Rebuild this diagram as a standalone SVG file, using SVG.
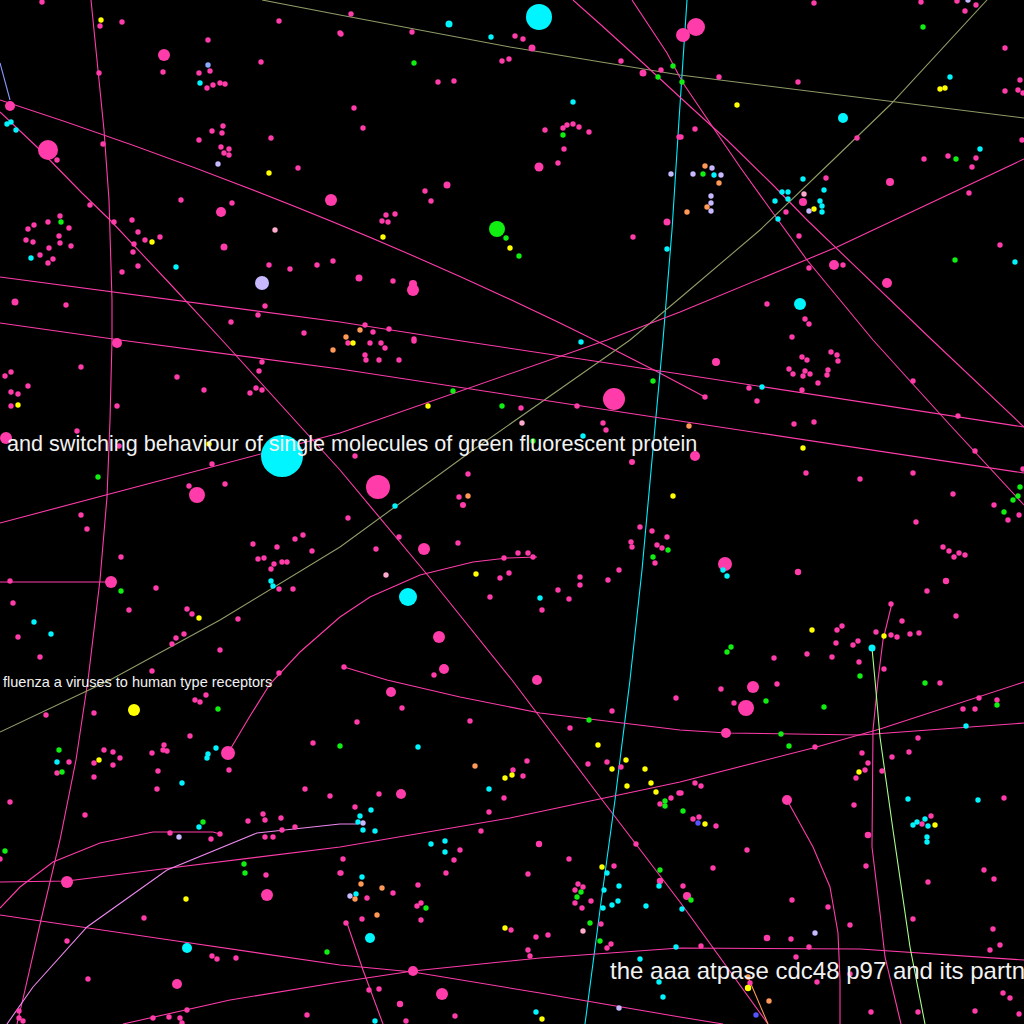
<svg xmlns="http://www.w3.org/2000/svg" width="1024" height="1024" viewBox="0 0 1024 1024">
<style>
.ln{fill:none;stroke-width:1.1}
.lp{stroke:#ff3caa}.lo{stroke:#8f9c66}.lc{stroke:#00eeff}.lg{stroke:#aaff88}.lv{stroke:#ee88ee}.lb{stroke:#8899ff}.lr{stroke:#ff9955}
.p{fill:#ff3caa}.c{fill:#00f5ff}.g{fill:#11ee11}.y{fill:#ffff00}.v{fill:#c8b8ff}.o{fill:#ff9955}.k{fill:#ffaacc}.b{fill:#88aaff}.u{fill:#5555ff}
.t{font-family:"Liberation Sans",Arial,sans-serif;fill:#f2f2f2}
</style>
<rect width="1024" height="1024" fill="#000"/>
<g id="connectors">
<polyline class="ln lp" points="91,0 97,60 104,130 109,200 112,300 112,340 110,420 107,497 100,580 88,680 76,760 60,840 41,920 25,990 17,1024"/>
<path class="ln lp" d="M0,100 C200,165 450,260 705,397"/>
<polyline class="ln lp" points="0,112 37,147 82,193 110,220 173,287 222,340 340,470 430,578 512,680 600,797 680,902 768,1024"/>
<polyline class="ln lb" points="0,63 10,100"/>
<polyline class="ln lo" points="262,0 340,15 510,47 680,75 1024,118"/>
<polyline class="ln lc" points="687,0 683,60 679,120 672,230 663,340 652,460 642,570 630,680 615,800 600,910 585,1024"/>
<polyline class="ln lp" points="632,0 667,53 683,83 710,123 740,167 773,213 807,260 873,340 950,425 1024,505"/>
<polyline class="ln lp" points="573,0 600,24 643,63 683,100 727,140 773,185 807,220 932,340 1024,427"/>
<polyline class="ln lo" points="0,732 110,680 220,620 340,547 473,450 630,340 680,298 760,230 833,160 890,105 987,0"/>
<polyline class="ln lp" points="0,277 340,322 455,340 680,374 1024,427"/>
<polyline class="ln lp" points="0,323 120,340 340,369 680,421 1024,473"/>
<polyline class="ln lp" points="0,523 340,433 607,340 680,312 837,247 1024,159"/>
<polyline class="ln lp" points="228,753 250,716 270,684 300,652 340,617 370,597 420,575 473,562 507,558 537,557"/>
<polyline class="ln lp" points="0,582 111,582"/>
<polyline class="ln lp" points="344,667 387,680 460,697 540,713 680,730 727,733 860,735 1024,723"/>
<polyline class="ln lp" points="0,882 67,881 170,868 340,847 510,818 680,782 813,748 880,729 1024,682"/>
<polyline class="ln lp" points="0,915 170,940 340,965 413,972 540,993 680,1017 723,1024"/>
<polyline class="ln lp" points="123,1024 230,1000 340,982 413,971 540,958 680,948 860,949 1024,960"/>
<polyline class="ln lv" points="7,1024 33,987 87,927 167,870 257,833 340,824 357,824"/>
<polyline class="ln lp" points="0,908 20,887 53,862 100,843 153,832 213,832 220,834"/>
<polyline class="ln lp" points="787,800 813,847 830,887 838,933 840,980 840,1024"/>
<polyline class="ln lp" points="892,603 883,640 878,680 873,730 872,847 880,913 885,957 901,1024"/>
<polyline class="ln lg" points="872,648 875,680 880,737 893,830 910,947 925,1024"/>
<polyline class="ln lr" points="748,977 768,1024"/>
<polyline class="ln lp" points="347,923 363,970 383,1024"/>
</g>
<g id="pink-dots" class="p">
<circle cx="42" cy="2" r="2.7"/><circle cx="122" cy="22" r="2.7"/><circle cx="100" cy="26" r="2.7"/><circle cx="208" cy="40" r="2.7"/><circle cx="279" cy="21" r="2.7"/><circle cx="340" cy="33" r="2.7"/><circle cx="163" cy="72" r="2.7"/><circle cx="199" cy="73" r="2.7"/><circle cx="210" cy="71" r="2.7"/><circle cx="220" cy="83" r="2.7"/><circle cx="225" cy="84" r="2.7"/><circle cx="213" cy="85" r="2.7"/><circle cx="207" cy="88" r="2.7"/><circle cx="261" cy="62" r="2.7"/><circle cx="99" cy="73" r="2.7"/><circle cx="57" cy="160" r="2.7"/><circle cx="103" cy="144" r="2.7"/><circle cx="212" cy="131" r="2.7"/><circle cx="223" cy="126" r="2.7"/><circle cx="222" cy="133" r="2.7"/><circle cx="199" cy="140" r="2.7"/><circle cx="221" cy="147" r="2.7"/><circle cx="229" cy="149" r="2.7"/><circle cx="224" cy="153" r="2.7"/><circle cx="229" cy="155" r="2.7"/><circle cx="271" cy="138" r="2.7"/><circle cx="298" cy="168" r="2.7"/><circle cx="181" cy="200" r="2.7"/><circle cx="232" cy="203" r="2.7"/><circle cx="90" cy="205" r="2.7"/><circle cx="114" cy="222" r="2.7"/><circle cx="132" cy="220" r="2.7"/><circle cx="138" cy="232" r="2.7"/><circle cx="145" cy="240" r="2.7"/><circle cx="160" cy="237" r="2.7"/><circle cx="134" cy="244" r="2.7"/><circle cx="133" cy="252" r="2.7"/><circle cx="138" cy="266" r="2.7"/><circle cx="122" cy="272" r="2.7"/><circle cx="60" cy="216" r="2.7"/><circle cx="48" cy="222" r="2.7"/><circle cx="34" cy="225" r="2.7"/><circle cx="28" cy="229" r="2.7"/><circle cx="69" cy="228" r="2.7"/><circle cx="26" cy="240" r="2.7"/><circle cx="33" cy="242" r="2.7"/><circle cx="59" cy="236" r="2.7"/><circle cx="60" cy="243" r="2.7"/><circle cx="71" cy="246" r="2.7"/><circle cx="49" cy="248" r="2.7"/><circle cx="40" cy="255" r="2.7"/><circle cx="53" cy="259" r="2.7"/><circle cx="48" cy="263" r="2.7"/><circle cx="269" cy="265" r="2.7"/><circle cx="290" cy="269" r="2.7"/><circle cx="317" cy="265" r="2.7"/><circle cx="333" cy="261" r="2.7"/><circle cx="265" cy="306" r="2.7"/><circle cx="258" cy="315" r="2.7"/><circle cx="231" cy="322" r="2.7"/><circle cx="304" cy="333" r="2.7"/><circle cx="66" cy="305" r="2.7"/>
<circle cx="351" cy="14" r="2.7"/><circle cx="412" cy="32" r="2.7"/><circle cx="341" cy="34" r="2.7"/><circle cx="515" cy="36" r="2.7"/><circle cx="523" cy="39" r="2.7"/><circle cx="502" cy="61" r="2.7"/><circle cx="509" cy="59" r="2.7"/><circle cx="621" cy="61" r="2.7"/><circle cx="661" cy="70" r="2.7"/><circle cx="438" cy="82" r="2.7"/><circle cx="454" cy="81" r="2.7"/><circle cx="354" cy="108" r="2.7"/><circle cx="363" cy="128" r="2.7"/><circle cx="545" cy="130" r="2.7"/><circle cx="563" cy="128" r="2.7"/><circle cx="567" cy="125" r="2.7"/><circle cx="573" cy="124" r="2.7"/><circle cx="579" cy="127" r="2.7"/><circle cx="589" cy="132" r="2.7"/><circle cx="564" cy="149" r="2.7"/><circle cx="558" cy="163" r="2.7"/><circle cx="425" cy="191" r="2.7"/><circle cx="431" cy="201" r="2.7"/><circle cx="386" cy="215" r="2.7"/><circle cx="395" cy="214" r="2.7"/><circle cx="382" cy="221" r="2.7"/><circle cx="388" cy="222" r="2.7"/><circle cx="633" cy="237" r="2.7"/><circle cx="393" cy="281" r="2.7"/><circle cx="365" cy="325" r="2.7"/><circle cx="373" cy="332" r="2.7"/><circle cx="389" cy="329" r="2.7"/><circle cx="414" cy="339" r="2.7"/><circle cx="679" cy="137" r="2.7"/>
<circle cx="814" cy="3" r="2.7"/><circle cx="921" cy="2" r="2.7"/><circle cx="957" cy="1" r="2.7"/><circle cx="976" cy="5" r="2.7"/><circle cx="965" cy="11" r="2.7"/><circle cx="1005" cy="48" r="2.7"/><circle cx="1020" cy="80" r="2.7"/><circle cx="1005" cy="91" r="2.7"/><circle cx="1018" cy="90" r="2.7"/><circle cx="1023" cy="93" r="2.7"/><circle cx="719" cy="77" r="2.7"/><circle cx="798" cy="82" r="2.7"/><circle cx="695" cy="129" r="2.7"/><circle cx="681" cy="137" r="2.7"/><circle cx="857" cy="138" r="2.7"/><circle cx="924" cy="159" r="2.7"/><circle cx="948" cy="156" r="2.7"/><circle cx="972" cy="167" r="2.7"/><circle cx="976" cy="158" r="2.7"/><circle cx="1022" cy="140" r="2.7"/><circle cx="826" cy="178" r="2.7"/><circle cx="969" cy="193" r="2.7"/><circle cx="786" cy="212" r="2.7"/><circle cx="799" cy="236" r="2.7"/><circle cx="809" cy="268" r="2.7"/><circle cx="843" cy="265" r="2.7"/><circle cx="1000" cy="245" r="2.7"/><circle cx="767" cy="304" r="2.7"/><circle cx="805" cy="319" r="2.7"/><circle cx="809" cy="324" r="2.7"/><circle cx="792" cy="337" r="2.7"/>
<circle cx="11" cy="372" r="2.7"/><circle cx="5" cy="376" r="2.7"/><circle cx="28" cy="386" r="2.7"/><circle cx="11" cy="392" r="2.7"/><circle cx="18" cy="394" r="2.7"/><circle cx="11" cy="406" r="2.7"/><circle cx="81" cy="367" r="2.7"/><circle cx="117" cy="406" r="2.7"/><circle cx="77" cy="431" r="2.7"/><circle cx="119" cy="446" r="2.7"/><circle cx="177" cy="377" r="2.7"/><circle cx="204" cy="390" r="2.7"/><circle cx="262" cy="362" r="2.7"/><circle cx="259" cy="371" r="2.7"/><circle cx="256" cy="388" r="2.7"/><circle cx="262" cy="390" r="2.7"/><circle cx="250" cy="393" r="2.7"/><circle cx="212" cy="464" r="2.7"/><circle cx="225" cy="484" r="2.7"/><circle cx="189" cy="486" r="2.7"/><circle cx="81" cy="515" r="2.7"/><circle cx="87" cy="529" r="2.7"/><circle cx="121" cy="557" r="2.7"/><circle cx="10" cy="581" r="2.7"/><circle cx="13" cy="603" r="2.7"/><circle cx="156" cy="588" r="2.7"/><circle cx="129" cy="610" r="2.7"/><circle cx="187" cy="609" r="2.7"/><circle cx="192" cy="614" r="2.7"/><circle cx="18" cy="637" r="2.7"/><circle cx="40" cy="657" r="2.7"/><circle cx="176" cy="638" r="2.7"/><circle cx="184" cy="634" r="2.7"/><circle cx="172" cy="644" r="2.7"/><circle cx="220" cy="650" r="2.7"/><circle cx="152" cy="671" r="2.7"/><circle cx="238" cy="619" r="2.7"/><circle cx="253" cy="544" r="2.7"/><circle cx="277" cy="547" r="2.7"/><circle cx="295" cy="539" r="2.7"/><circle cx="303" cy="535" r="2.7"/><circle cx="312" cy="551" r="2.7"/><circle cx="258" cy="559" r="2.7"/><circle cx="264" cy="558" r="2.7"/><circle cx="274" cy="564" r="2.7"/><circle cx="271" cy="569" r="2.7"/><circle cx="282" cy="562" r="2.7"/><circle cx="287" cy="562" r="2.7"/><circle cx="279" cy="589" r="2.7"/><circle cx="293" cy="589" r="2.7"/><circle cx="279" cy="673" r="2.7"/>
<circle cx="348" cy="343" r="2.7"/><circle cx="370" cy="343" r="2.7"/><circle cx="381" cy="343" r="2.7"/><circle cx="385" cy="348" r="2.7"/><circle cx="365" cy="355" r="2.7"/><circle cx="366" cy="360" r="2.7"/><circle cx="379" cy="360" r="2.7"/><circle cx="399" cy="360" r="2.7"/><circle cx="414" cy="341" r="2.7"/><circle cx="521" cy="408" r="2.7"/><circle cx="577" cy="406" r="2.7"/><circle cx="603" cy="423" r="2.7"/><circle cx="606" cy="430" r="2.7"/><circle cx="355" cy="456" r="2.7"/><circle cx="468" cy="474" r="2.7"/><circle cx="459" cy="497" r="2.7"/><circle cx="463" cy="505" r="3"/><circle cx="348" cy="518" r="2.7"/><circle cx="399" cy="537" r="2.7"/><circle cx="458" cy="543" r="2.7"/><circle cx="376" cy="549" r="2.7"/><circle cx="518" cy="553" r="2.7"/><circle cx="528" cy="553" r="2.7"/><circle cx="533" cy="557" r="2.7"/><circle cx="504" cy="558" r="2.7"/><circle cx="500" cy="578" r="2.7"/><circle cx="509" cy="573" r="2.7"/><circle cx="580" cy="577" r="2.7"/><circle cx="580" cy="585" r="2.7"/><circle cx="558" cy="590" r="2.7"/><circle cx="569" cy="599" r="2.7"/><circle cx="542" cy="610" r="2.7"/><circle cx="490" cy="597" r="2.7"/><circle cx="608" cy="580" r="2.7"/><circle cx="619" cy="570" r="2.7"/><circle cx="640" cy="527" r="2.7"/><circle cx="652" cy="531" r="2.7"/><circle cx="667" cy="537" r="2.7"/><circle cx="631" cy="542" r="2.7"/><circle cx="632" cy="547" r="2.7"/><circle cx="657" cy="545" r="2.7"/><circle cx="662" cy="548" r="2.7"/><circle cx="655" cy="563" r="2.7"/><circle cx="344" cy="667" r="2.7"/><circle cx="434" cy="675" r="2.7"/><circle cx="632" cy="462" r="3"/>
<circle cx="831" cy="352" r="2.7"/><circle cx="837" cy="355" r="2.7"/><circle cx="838" cy="361" r="2.7"/><circle cx="802" cy="357" r="2.7"/><circle cx="807" cy="360" r="2.7"/><circle cx="789" cy="369" r="2.7"/><circle cx="793" cy="374" r="2.7"/><circle cx="805" cy="371" r="2.7"/><circle cx="803" cy="376" r="2.7"/><circle cx="810" cy="374" r="2.7"/><circle cx="828" cy="370" r="2.7"/><circle cx="827" cy="375" r="2.7"/><circle cx="818" cy="383" r="2.7"/><circle cx="802" cy="390" r="2.7"/><circle cx="749" cy="388" r="2.7"/><circle cx="757" cy="401" r="2.7"/><circle cx="705" cy="397" r="2.7"/><circle cx="913" cy="381" r="2.7"/><circle cx="958" cy="416" r="2.7"/><circle cx="975" cy="451" r="2.7"/><circle cx="1023" cy="469" r="2.7"/><circle cx="794" cy="424" r="2.7"/><circle cx="814" cy="422" r="2.7"/><circle cx="806" cy="473" r="2.7"/><circle cx="860" cy="479" r="2.7"/><circle cx="913" cy="473" r="2.7"/><circle cx="953" cy="494" r="2.7"/><circle cx="994" cy="505" r="2.7"/><circle cx="1008" cy="520" r="2.7"/><circle cx="1019" cy="515" r="2.7"/><circle cx="916" cy="522" r="2.7"/><circle cx="943" cy="547" r="2.7"/><circle cx="949" cy="551" r="2.7"/><circle cx="954" cy="557" r="2.7"/><circle cx="959" cy="553" r="2.7"/><circle cx="965" cy="555" r="2.7"/><circle cx="927" cy="591" r="2.7"/><circle cx="956" cy="616" r="2.7"/><circle cx="891" cy="604" r="2.7"/><circle cx="902" cy="621" r="2.7"/><circle cx="876" cy="632" r="2.7"/><circle cx="891" cy="635" r="2.7"/><circle cx="897" cy="637" r="2.7"/><circle cx="910" cy="634" r="2.7"/><circle cx="919" cy="633" r="2.7"/><circle cx="842" cy="626" r="2.7"/><circle cx="837" cy="630" r="2.7"/><circle cx="836" cy="643" r="2.7"/><circle cx="853" cy="645" r="2.7"/><circle cx="858" cy="641" r="2.7"/><circle cx="859" cy="662" r="2.7"/><circle cx="832" cy="657" r="2.7"/><circle cx="807" cy="654" r="2.7"/><circle cx="774" cy="658" r="2.7"/><circle cx="884" cy="669" r="2.7"/><circle cx="798" cy="572" r="3.2"/><circle cx="946" cy="581" r="3.2"/>
<circle cx="206" cy="695" r="2.7"/><circle cx="195" cy="700" r="2.7"/><circle cx="200" cy="702" r="2.7"/><circle cx="46" cy="715" r="2.7"/><circle cx="94" cy="713" r="2.7"/><circle cx="190" cy="736" r="2.7"/><circle cx="164" cy="745" r="2.7"/><circle cx="163" cy="750" r="2.7"/><circle cx="167" cy="751" r="2.7"/><circle cx="152" cy="753" r="2.7"/><circle cx="104" cy="750" r="2.7"/><circle cx="113" cy="752" r="2.7"/><circle cx="120" cy="758" r="2.7"/><circle cx="113" cy="765" r="2.7"/><circle cx="94" cy="763" r="2.7"/><circle cx="69" cy="762" r="2.7"/><circle cx="57" cy="773" r="2.7"/><circle cx="94" cy="777" r="2.7"/><circle cx="158" cy="771" r="2.7"/><circle cx="157" cy="789" r="2.7"/><circle cx="229" cy="770" r="2.7"/><circle cx="313" cy="743" r="2.7"/><circle cx="305" cy="789" r="2.7"/><circle cx="330" cy="796" r="2.7"/><circle cx="10" cy="802" r="2.7"/><circle cx="85" cy="815" r="2.7"/><circle cx="263" cy="814" r="2.7"/><circle cx="265" cy="820" r="2.7"/><circle cx="281" cy="818" r="2.7"/><circle cx="248" cy="821" r="2.7"/><circle cx="295" cy="827" r="2.7"/><circle cx="282" cy="830" r="2.7"/><circle cx="265" cy="837" r="2.7"/><circle cx="273" cy="837" r="2.7"/><circle cx="170" cy="833" r="2.7"/><circle cx="220" cy="834" r="2.7"/><circle cx="211" cy="839" r="2.7"/><circle cx="0" cy="859" r="2.7"/><circle cx="266" cy="875" r="2.7"/><circle cx="340" cy="873" r="2.7"/><circle cx="144" cy="918" r="2.7"/><circle cx="67" cy="941" r="2.7"/><circle cx="212" cy="956" r="2.7"/><circle cx="217" cy="959" r="2.7"/><circle cx="236" cy="958" r="2.7"/><circle cx="88" cy="979" r="2.7"/><circle cx="307" cy="1015" r="2.7"/><circle cx="19" cy="1011" r="2.7"/><circle cx="19" cy="1018" r="2.7"/><circle cx="23" cy="1021" r="2.7"/><circle cx="187" cy="1010" r="2.7"/><circle cx="153" cy="1018" r="2.7"/><circle cx="169" cy="1017" r="2.7"/><circle cx="180" cy="1018" r="2.7"/><circle cx="182" cy="1023" r="2.7"/>
<circle cx="402" cy="708" r="2.7"/><circle cx="357" cy="722" r="2.7"/><circle cx="470" cy="721" r="2.7"/><circle cx="612" cy="711" r="2.7"/><circle cx="570" cy="728" r="2.7"/><circle cx="676" cy="698" r="2.7"/><circle cx="527" cy="761" r="2.7"/><circle cx="513" cy="770" r="2.7"/><circle cx="523" cy="776" r="2.7"/><circle cx="588" cy="764" r="2.7"/><circle cx="607" cy="762" r="2.7"/><circle cx="621" cy="767" r="2.7"/><circle cx="504" cy="798" r="2.7"/><circle cx="489" cy="812" r="2.7"/><circle cx="379" cy="794" r="2.7"/><circle cx="355" cy="807" r="2.7"/><circle cx="481" cy="831" r="2.7"/><circle cx="671" cy="798" r="2.7"/><circle cx="660" cy="804" r="2.7"/><circle cx="679" cy="793" r="2.7"/><circle cx="636" cy="844" r="2.7"/><circle cx="539" cy="844" r="3.2"/><circle cx="343" cy="859" r="2.7"/><circle cx="341" cy="873" r="2.7"/><circle cx="460" cy="850" r="2.7"/><circle cx="454" cy="860" r="2.7"/><circle cx="446" cy="873" r="2.7"/><circle cx="569" cy="859" r="2.7"/><circle cx="614" cy="866" r="2.7"/><circle cx="528" cy="874" r="2.7"/><circle cx="393" cy="893" r="2.7"/><circle cx="418" cy="885" r="2.7"/><circle cx="367" cy="898" r="2.7"/><circle cx="421" cy="903" r="2.7"/><circle cx="417" cy="906" r="2.7"/><circle cx="421" cy="920" r="2.7"/><circle cx="362" cy="919" r="2.7"/><circle cx="578" cy="884" r="2.7"/><circle cx="583" cy="887" r="2.7"/><circle cx="575" cy="890" r="2.7"/><circle cx="575" cy="903" r="2.7"/><circle cx="591" cy="901" r="2.7"/><circle cx="582" cy="908" r="2.7"/><circle cx="601" cy="924" r="2.7"/><circle cx="611" cy="944" r="2.7"/><circle cx="607" cy="948" r="2.7"/><circle cx="511" cy="930" r="2.7"/><circle cx="536" cy="937" r="2.7"/><circle cx="548" cy="935" r="2.7"/><circle cx="528" cy="950" r="2.7"/><circle cx="530" cy="956" r="2.7"/><circle cx="346" cy="923" r="2.7"/><circle cx="369" cy="990" r="2.7"/><circle cx="379" cy="989" r="2.7"/><circle cx="455" cy="1016" r="2.7"/><circle cx="406" cy="1021" r="2.7"/><circle cx="660" cy="881" r="3.2"/><circle cx="400" cy="1004" r="3.2"/>
<circle cx="721" cy="689" r="2.7"/><circle cx="734" cy="703" r="2.7"/><circle cx="777" cy="684" r="2.7"/><circle cx="940" cy="683" r="2.7"/><circle cx="979" cy="698" r="2.7"/><circle cx="997" cy="700" r="2.7"/><circle cx="963" cy="709" r="2.7"/><circle cx="975" cy="709" r="2.7"/><circle cx="918" cy="738" r="2.7"/><circle cx="909" cy="752" r="2.7"/><circle cx="892" cy="757" r="2.7"/><circle cx="862" cy="753" r="2.7"/><circle cx="868" cy="763" r="2.7"/><circle cx="865" cy="770" r="2.7"/><circle cx="882" cy="771" r="2.7"/><circle cx="856" cy="778" r="2.7"/><circle cx="815" cy="747" r="2.7"/><circle cx="695" cy="783" r="2.7"/><circle cx="701" cy="786" r="2.7"/><circle cx="681" cy="793" r="2.7"/><circle cx="854" cy="805" r="2.7"/><circle cx="1004" cy="798" r="2.7"/><circle cx="931" cy="816" r="2.7"/><circle cx="922" cy="824" r="2.7"/><circle cx="693" cy="819" r="2.7"/><circle cx="699" cy="817" r="2.7"/><circle cx="716" cy="826" r="2.7"/><circle cx="747" cy="850" r="2.7"/><circle cx="713" cy="868" r="2.7"/><circle cx="866" cy="866" r="2.7"/><circle cx="984" cy="870" r="2.7"/><circle cx="994" cy="879" r="2.7"/><circle cx="928" cy="882" r="2.7"/><circle cx="683" cy="886" r="2.7"/><circle cx="792" cy="900" r="2.7"/><circle cx="828" cy="907" r="2.7"/><circle cx="850" cy="925" r="2.7"/><circle cx="913" cy="919" r="2.7"/><circle cx="993" cy="929" r="2.7"/><circle cx="1000" cy="945" r="2.7"/><circle cx="990" cy="950" r="2.7"/><circle cx="791" cy="939" r="2.7"/><circle cx="809" cy="947" r="2.7"/><circle cx="701" cy="946" r="2.7"/><circle cx="796" cy="957" r="2.7"/><circle cx="850" cy="974" r="2.7"/><circle cx="817" cy="982" r="2.7"/><circle cx="750" cy="983" r="2.7"/><circle cx="1003" cy="993" r="2.7"/><circle cx="1010" cy="998" r="2.7"/><circle cx="975" cy="1011" r="2.7"/><circle cx="918" cy="1012" r="2.7"/><circle cx="1019" cy="1014" r="2.7"/><circle cx="871" cy="1012" r="2.7"/><circle cx="767" cy="938" r="3.3"/><circle cx="868" cy="835" r="3.3"/>
</g>
<g id="pink-circles" class="p">
<circle cx="696" cy="27" r="9"/><circle cx="683" cy="35" r="7"/><circle cx="48" cy="150" r="10"/><circle cx="10" cy="106" r="5"/><circle cx="164" cy="55" r="6"/><circle cx="331" cy="200" r="6"/><circle cx="221" cy="212" r="5"/><circle cx="15" cy="302" r="3.5"/><circle cx="224" cy="247" r="3.5"/><circle cx="413" cy="290" r="6"/><circle cx="413" cy="284" r="4"/><circle cx="532" cy="48" r="3.5"/><circle cx="643" cy="73" r="3.5"/><circle cx="539" cy="167" r="4.5"/><circle cx="447" cy="185" r="3.5"/><circle cx="667" cy="222" r="3.5"/><circle cx="359" cy="278" r="3.5"/><circle cx="834" cy="265" r="5"/><circle cx="887" cy="283" r="5"/><circle cx="890" cy="182" r="4"/><circle cx="803" cy="202" r="4"/><circle cx="716" cy="362" r="4"/><circle cx="614" cy="399" r="11"/><circle cx="378" cy="487" r="12"/><circle cx="197" cy="495" r="8"/><circle cx="6" cy="438" r="6"/><circle cx="117" cy="343" r="5"/><circle cx="695" cy="456" r="5"/><circle cx="424" cy="549" r="6"/><circle cx="725" cy="564" r="7"/><circle cx="111" cy="582" r="6"/><circle cx="439" cy="637" r="6"/><circle cx="444" cy="669" r="5"/><circle cx="537" cy="680" r="5"/><circle cx="391" cy="692" r="5"/><circle cx="753" cy="687" r="6"/><circle cx="746" cy="708" r="8"/><circle cx="726" cy="733" r="5"/><circle cx="228" cy="753" r="7"/><circle cx="401" cy="794" r="5"/><circle cx="787" cy="800" r="5"/><circle cx="67" cy="882" r="6"/><circle cx="267" cy="895" r="6"/><circle cx="413" cy="971" r="5"/><circle cx="442" cy="994" r="6"/><circle cx="177" cy="984" r="5"/><circle cx="687" cy="896" r="4"/>
</g>
<g id="cyan-dots" class="c">
<circle cx="539" cy="17" r="13"/><circle cx="282" cy="456" r="21"/><circle cx="408" cy="597" r="9"/><circle cx="800" cy="304" r="6"/><circle cx="843" cy="118" r="5"/><circle cx="370" cy="938" r="5"/><circle cx="187" cy="948" r="5"/><circle cx="449" cy="24" r="3.5"/><circle cx="872" cy="648" r="3.5"/>
<circle cx="200" cy="83" r="2.7"/><circle cx="7" cy="124" r="2.7"/><circle cx="11" cy="122" r="2.7"/><circle cx="16" cy="130" r="2.7"/><circle cx="31" cy="258" r="2.7"/><circle cx="176" cy="267" r="2.7"/><circle cx="491" cy="37" r="2.7"/><circle cx="573" cy="102" r="2.7"/><circle cx="667" cy="249" r="2.7"/><circle cx="950" cy="77" r="2.7"/><circle cx="980" cy="149" r="2.7"/><circle cx="803" cy="179" r="2.7"/><circle cx="782" cy="192" r="2.7"/><circle cx="788" cy="192" r="2.7"/><circle cx="775" cy="201" r="2.7"/><circle cx="788" cy="199" r="2.7"/><circle cx="824" cy="190" r="2.7"/><circle cx="820" cy="201" r="2.7"/><circle cx="822" cy="206" r="2.7"/><circle cx="822" cy="212" r="2.7"/><circle cx="778" cy="219" r="2.7"/><circle cx="1015" cy="262" r="2.7"/><circle cx="714" cy="175" r="2.7"/><circle cx="271" cy="581" r="2.7"/><circle cx="273" cy="586" r="2.7"/><circle cx="34" cy="622" r="2.7"/><circle cx="51" cy="634" r="2.7"/><circle cx="581" cy="342" r="2.7"/><circle cx="583" cy="436" r="2.7"/><circle cx="395" cy="506" r="2.7"/><circle cx="540" cy="598" r="2.7"/><circle cx="762" cy="387" r="2.7"/><circle cx="723" cy="570" r="2.7"/><circle cx="727" cy="576" r="2.7"/><circle cx="57" cy="762" r="2.7"/><circle cx="216" cy="748" r="2.7"/><circle cx="208" cy="754" r="2.7"/><circle cx="207" cy="758" r="2.7"/><circle cx="182" cy="783" r="2.7"/><circle cx="199" cy="827" r="2.7"/><circle cx="418" cy="747" r="2.7"/><circle cx="489" cy="789" r="2.7"/><circle cx="371" cy="810" r="2.7"/><circle cx="360" cy="816" r="2.7"/><circle cx="358" cy="822" r="2.7"/><circle cx="363" cy="830" r="2.7"/><circle cx="375" cy="831" r="2.7"/><circle cx="431" cy="844" r="2.7"/><circle cx="445" cy="841" r="2.7"/><circle cx="445" cy="852" r="2.7"/><circle cx="362" cy="877" r="2.7"/><circle cx="356" cy="894" r="2.7"/><circle cx="607" cy="873" r="2.7"/><circle cx="604" cy="890" r="2.7"/><circle cx="619" cy="886" r="2.7"/><circle cx="618" cy="901" r="2.7"/><circle cx="612" cy="905" r="2.7"/><circle cx="603" cy="908" r="2.7"/><circle cx="646" cy="906" r="2.7"/><circle cx="659" cy="886" r="2.7"/><circle cx="676" cy="947" r="2.7"/><circle cx="640" cy="959" r="2.7"/><circle cx="659" cy="982" r="2.7"/><circle cx="663" cy="997" r="2.7"/><circle cx="536" cy="1012" r="2.7"/><circle cx="375" cy="1021" r="2.7"/><circle cx="966" cy="726" r="2.7"/><circle cx="908" cy="799" r="2.7"/><circle cx="978" cy="800" r="2.7"/><circle cx="925" cy="819" r="2.7"/><circle cx="917" cy="822" r="2.7"/><circle cx="913" cy="825" r="2.7"/><circle cx="928" cy="826" r="2.7"/><circle cx="927" cy="837" r="2.7"/><circle cx="927" cy="842" r="2.7"/><circle cx="682" cy="909" r="2.7"/>
</g>
<g id="green-dots" class="g">
<circle cx="497" cy="229" r="8"/>
<circle cx="61" cy="222" r="2.7"/><circle cx="414" cy="63" r="2.7"/><circle cx="673" cy="66" r="2.7"/><circle cx="658" cy="77" r="2.7"/><circle cx="563" cy="135" r="2.7"/><circle cx="506" cy="238" r="2.7"/><circle cx="519" cy="256" r="2.7"/><circle cx="923" cy="27" r="2.7"/><circle cx="682" cy="82" r="2.7"/><circle cx="703" cy="174" r="2.7"/><circle cx="956" cy="159" r="2.7"/><circle cx="955" cy="260" r="2.7"/><circle cx="98" cy="477" r="2.7"/><circle cx="121" cy="591" r="2.7"/><circle cx="453" cy="391" r="2.7"/><circle cx="502" cy="406" r="2.7"/><circle cx="653" cy="381" r="2.7"/><circle cx="533" cy="441" r="2.7"/><circle cx="653" cy="557" r="2.7"/><circle cx="668" cy="550" r="2.7"/><circle cx="1020" cy="487" r="2.7"/><circle cx="1018" cy="496" r="2.7"/><circle cx="1013" cy="500" r="2.7"/><circle cx="1004" cy="512" r="2.7"/><circle cx="731" cy="647" r="2.7"/><circle cx="727" cy="652" r="2.7"/><circle cx="860" cy="676" r="2.7"/><circle cx="218" cy="709" r="2.7"/><circle cx="59" cy="750" r="2.7"/><circle cx="62" cy="772" r="2.7"/><circle cx="5" cy="851" r="2.7"/><circle cx="203" cy="822" r="2.7"/><circle cx="244" cy="864" r="2.7"/><circle cx="245" cy="873" r="2.7"/><circle cx="327" cy="952" r="2.7"/><circle cx="340" cy="746" r="2.7"/><circle cx="589" cy="720" r="2.7"/><circle cx="665" cy="801" r="2.7"/><circle cx="665" cy="806" r="2.7"/><circle cx="581" cy="892" r="2.7"/><circle cx="577" cy="897" r="2.7"/><circle cx="660" cy="870" r="2.7"/><circle cx="426" cy="908" r="2.7"/><circle cx="590" cy="923" r="2.7"/><circle cx="600" cy="941" r="2.7"/><circle cx="766" cy="701" r="2.7"/><circle cx="824" cy="707" r="2.7"/><circle cx="925" cy="683" r="2.7"/><circle cx="997" cy="705" r="2.7"/><circle cx="781" cy="734" r="2.7"/><circle cx="789" cy="746" r="2.7"/><circle cx="683" cy="811" r="2.7"/><circle cx="691" cy="900" r="2.7"/>
</g>
<g id="yellow-dots" class="y">
<circle cx="134" cy="710" r="6"/>
<circle cx="101" cy="20" r="2.7"/><circle cx="269" cy="173" r="2.7"/><circle cx="152" cy="242" r="2.7"/><circle cx="383" cy="237" r="2.7"/><circle cx="510" cy="248" r="2.7"/><circle cx="737" cy="105" r="2.7"/><circle cx="940" cy="89" r="2.7"/><circle cx="945" cy="88" r="2.7"/><circle cx="814" cy="209" r="2.7"/><circle cx="18" cy="405" r="2.7"/><circle cx="199" cy="618" r="2.7"/><circle cx="209" cy="444" r="2.7"/><circle cx="353" cy="343" r="2.7"/><circle cx="428" cy="406" r="2.7"/><circle cx="476" cy="574" r="2.7"/><circle cx="673" cy="496" r="2.7"/><circle cx="803" cy="448" r="2.7"/><circle cx="812" cy="630" r="2.7"/><circle cx="884" cy="636" r="2.7"/><circle cx="99" cy="760" r="2.7"/><circle cx="186" cy="899" r="2.7"/><circle cx="598" cy="745" r="2.7"/><circle cx="626" cy="760" r="2.7"/><circle cx="612" cy="769" r="2.7"/><circle cx="645" cy="769" r="2.7"/><circle cx="627" cy="786" r="2.7"/><circle cx="651" cy="783" r="2.7"/><circle cx="656" cy="792" r="2.7"/><circle cx="512" cy="775" r="2.7"/><circle cx="505" cy="778" r="2.7"/><circle cx="602" cy="867" r="2.7"/><circle cx="505" cy="928" r="2.7"/><circle cx="542" cy="1019" r="2.7"/><circle cx="859" cy="772" r="2.7"/><circle cx="935" cy="825" r="2.7"/><circle cx="705" cy="824" r="2.7"/><circle cx="748" cy="988" r="3.2"/>
</g>
<g id="other-dots">
<g class="v"><circle cx="262" cy="283" r="7"/><circle cx="218" cy="164" r="2.7"/><circle cx="671" cy="174" r="2.7"/><circle cx="693" cy="174" r="2.7"/><circle cx="712" cy="168" r="2.7"/><circle cx="721" cy="175" r="2.7"/><circle cx="711" cy="196" r="2.7"/><circle cx="711" cy="203" r="2.7"/><circle cx="711" cy="211" r="2.7"/><circle cx="809" cy="211" r="2.7"/><circle cx="968" cy="0" r="2.7"/><circle cx="179" cy="837" r="2.7"/><circle cx="363" cy="823" r="2.7"/><circle cx="350" cy="896" r="2.7"/><circle cx="619" cy="1008" r="2.7"/><circle cx="815" cy="933" r="2.7"/></g>
<g class="o"><circle cx="360" cy="330" r="2.7"/><circle cx="346" cy="337" r="2.7"/><circle cx="705" cy="166" r="2.7"/><circle cx="719" cy="183" r="2.7"/><circle cx="707" cy="207" r="2.7"/><circle cx="687" cy="212" r="2.7"/><circle cx="333" cy="350" r="2.7"/><circle cx="468" cy="496" r="2.7"/><circle cx="689" cy="426" r="2.7"/><circle cx="475" cy="766" r="2.7"/><circle cx="382" cy="888" r="2.7"/><circle cx="361" cy="884" r="2.7"/><circle cx="355" cy="899" r="2.7"/><circle cx="377" cy="915" r="2.7"/><circle cx="769" cy="1001" r="2.7"/><circle cx="748" cy="977" r="2.7"/></g>
<g class="k"><circle cx="275" cy="230" r="2.7"/><circle cx="804" cy="194" r="2.7"/><circle cx="522" cy="423" r="2.7"/><circle cx="386" cy="575" r="2.7"/><circle cx="583" cy="931" r="2.7"/></g>
<g class="b"><circle cx="208" cy="65" r="2.7"/></g>
<g class="u"><circle cx="698" cy="823" r="2.7"/><circle cx="756" cy="1015" r="2.7"/></g>
</g>
<g id="labels" class="t">
<text x="7" y="451" font-size="21.6">and switching behaviour of single molecules of green fluorescent protein</text>
<text x="3" y="687" font-size="14.5">fluenza a viruses to human type receptors</text>
<text x="610" y="979" font-size="24">the aaa atpase cdc48 p97 and its partne</text>
</g>
</svg>
